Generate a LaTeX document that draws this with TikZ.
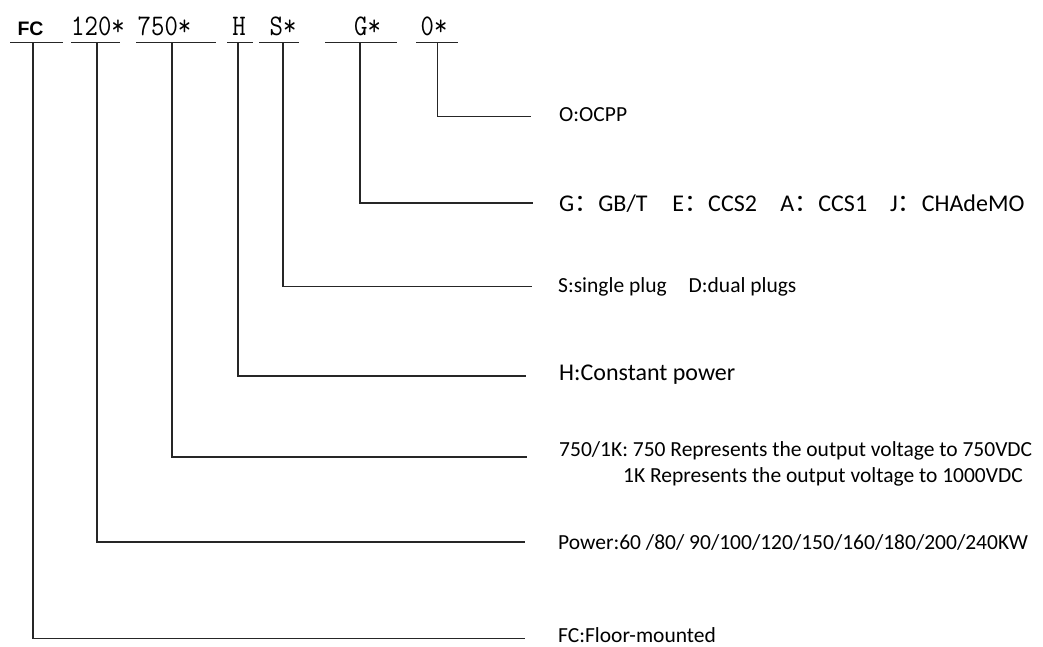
\documentclass[tikz,border=0pt]{standalone}
\usepackage{fontspec}
\setmainfont{Carlito}
\newfontfamily\cjk{Noto Sans CJK SC}
\newfontfamily\hdrbold{Liberation Sans}
\newcommand{\tallcode}[1]{\scalebox{1}[1.15]{#1}}
\begin{document}
\begin{tikzpicture}[x=1pt,y=-1pt,
  conn/.style={line width=1.1pt,black!85},
  uline/.style={line width=1.1pt,black!85},
  code/.style={anchor=base,inner sep=0pt,font=\fontsize{26}{26}\selectfont\ttfamily},
  lab/.style={anchor=base west,inner sep=0pt,text depth=0pt,font=\fontsize{21.5}{26}\selectfont},
  labbig/.style={anchor=base west,inner sep=0pt,text depth=0pt,font=\fontsize{24}{28}\selectfont}]
\useasboundingbox (0,0) rectangle (1043,646);
% header codes
\node[anchor=base,inner sep=0pt,font=\fontsize{19.5}{20}\selectfont\hdrbold\bfseries] (cFC) at (30.5,35) {FC};
\node[code] (c120) at (98,35) {\tallcode{120*}};
\node[code] (c750) at (164.5,35) {\tallcode{750*}};
\node[code] (cH) at (239,35) {\tallcode{H}};
\node[code] (cS) at (283,35) {\tallcode{S*}};
\node[code] (cG) at (367.5,35) {\tallcode{G*}};
\node[code] (cO) at (434,35) {\tallcode{0*}};
% underlines
\draw[uline] (10,42.7) -- (63,42.7);
\draw[uline] (71,42.7) -- (120,42.7);
\draw[uline] (136,42.7) -- (216,42.7);
\draw[uline] (227,42.7) -- (253,42.7);
\draw[uline] (259,42.7) -- (299,42.7);
\draw[uline] (325,42.7) -- (397,42.7);
\draw[uline] (416,42.7) -- (458,42.7);
% branch points
\coordinate (tFC) at (33,42.7);
\coordinate (t120) at (97,42.7);
\coordinate (t750) at (172,42.7);
\coordinate (tH) at (238,42.7);
\coordinate (tS) at (283,42.7);
\coordinate (tG) at (360,42.7);
\coordinate (tO) at (437.5,42.7);
\coordinate (eO) at (531,116.7);
\coordinate (eG) at (533,203);
\coordinate (eS) at (532,286.5);
\coordinate (eH) at (526,376);
\coordinate (e750) at (527,457);
\coordinate (e120) at (525,542);
\coordinate (eFC) at (525,638.5);
% labels
\node[lab] (lO) at (559,121.7) {O:OCPP};
\node[labbig] (lG) at (559,211) {G{\cjk ：}GB/T\hspace{25pt}E{\cjk ：}CCS2\hspace{23.5pt}A{\cjk ：}CCS1\hspace{23pt}J{\cjk ：}CHAdeMO};
\node[lab] (lS) at (558,292.7) {S:single plug\hspace{22pt}D:dual plugs};
\node[labbig] (lH) at (559,380) {H:Constant power};
\node[lab] (l750) at (559,456) {750/1K: 750 Represents the output voltage to 750VDC};
\node[lab] (l750b) at (623,482) {1K Represents the output voltage to 1000VDC};
\node[lab] (l120) at (558,549) {Power:60 /80/ 90/100/120/150/160/180/200/240KW};
\node[lab] (lFC) at (558,642) {FC:Floor-mounted};
% connectors
\draw[conn] (tO) |- (eO);
\draw[conn] (tG) |- (eG);
\draw[conn] (tS) |- (eS);
\draw[conn] (tH) |- (eH);
\draw[conn] (t750) |- (e750);
\draw[conn] (t120) |- (e120);
\draw[conn] (tFC) |- (eFC);
\end{tikzpicture}
\end{document}
